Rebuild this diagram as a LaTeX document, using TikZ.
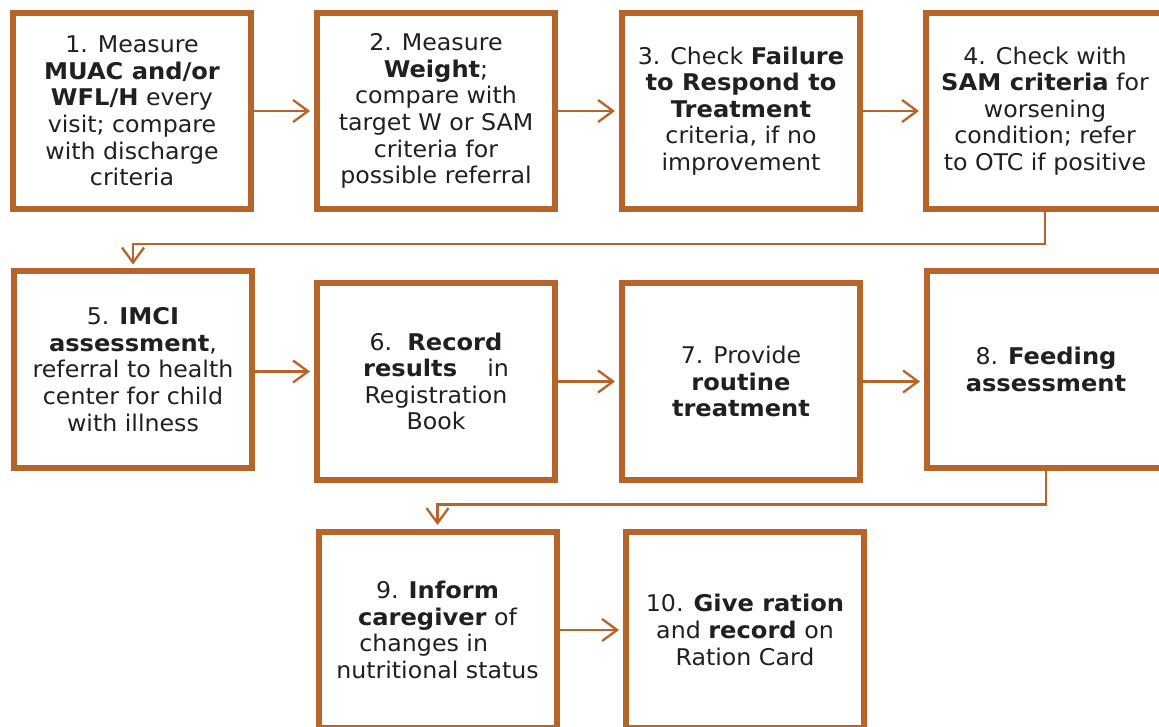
\documentclass[tikz,border=0pt]{standalone}
\usepackage{fontspec}
\setmainfont{DejaVu Sans}[FakeStretch=1.03, BoldFeatures={FakeStretch=1.05}]
\usetikzlibrary{arrows.meta,calc}
\definecolor{rust}{RGB}{181,101,42}
\definecolor{ink}{RGB}{35,31,32}

\begin{document}
\begin{tikzpicture}[x=1pt,y=-1pt,
  stepbox/.style={draw=rust, line width=6pt, fill=white,
    minimum width=238pt, minimum height=196pt, inner sep=0pt,
    align=center, text=ink, font=\fontsize{23}{26.6}\selectfont},
  flow/.style={draw=rust, line width=2.3pt,
    -{Straight Barb[length=15pt,width=22pt]}, shorten >=4pt}]

\useasboundingbox (0,0) rectangle (1159,727);
\clip (0,0) rectangle (1159,727);

% first row
\node[stepbox] (b1) at (132,111)
  {1. Measure\\\textbf{MUAC and/or}\\\textbf{WFL/H} every\\visit; compare\\with discharge\\criteria};
\node[stepbox] (b2) at (436,111)
  {2. Measure\\\textbf{Weight};\\compare with\\target W or SAM\\criteria for\\possible referral};
\node[stepbox] (b3) at (741,111)
  {3. Check \textbf{Failure}\\\textbf{to Respond to}\\\textbf{Treatment}\\criteria, if no\\improvement};
\node[stepbox] (b4) at (1045,111)
  {4. Check with\\\textbf{SAM criteria} for\\worsening\\condition; refer\\to OTC if positive};

% second row
\node[stepbox] (b5) at (133,369.5)
  {5. \textbf{IMCI}\\\textbf{assessment},\\referral to health\\center for child\\with illness};
\node[stepbox] (b6) at (436,381.5)
  {6.\ \ \textbf{Record}\\\textbf{results}\ \ \ \ in\\Registration\\Book};
\node[stepbox] (b7) at (741,381.5)
  {7. Provide\\\textbf{routine}\\\textbf{treatment}};
\node[stepbox] (b8) at (1046,369.5)
  {8. \textbf{Feeding}\\\textbf{assessment}};

% third row
\node[stepbox] (b9) at (437.5,630)
  {9. \textbf{Inform}\\\textbf{caregiver} of\\changes in\hspace{1.2em}\null\\nutritional status};
\node[stepbox] (b10) at (745,630)
  {10. \textbf{Give ration}\\and \textbf{record} on\\Ration Card};

% connectors
\draw[flow] (b1.east) -- (b1.east -| b2.west);
\draw[flow] (b2.east) -- (b2.east -| b3.west);
\draw[flow] (b3.east) -- (b3.east -| b4.west);
\draw[flow] (b4.south) -- ++(0,32) -| (b5.north);
\draw[flow] ($(b5.east)+(0,2)$) -- ($(b5.east -| b6.west)+(0,2)$);
\draw[flow] (b6.east) -- (b6.east -| b7.west);
\draw[flow] (b7.east) -- (b7.east -| b8.west);
\draw[flow] (b8.south) -- ++(0,34) -| (b9.north);
\draw[flow] (b9.east) -- (b9.east -| b10.west);
\end{tikzpicture}
\end{document}
